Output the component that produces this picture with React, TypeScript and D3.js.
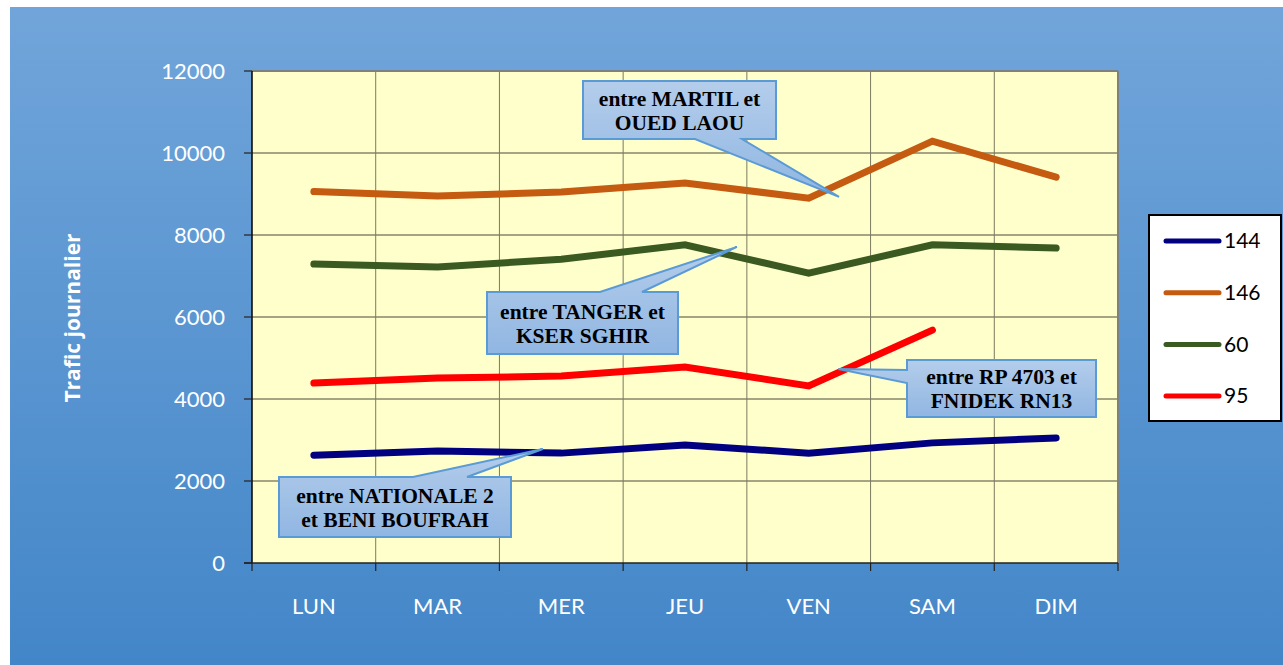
import React from "react";
import * as d3 from "d3";

const categories = ["LUN", "MAR", "MER", "JEU", "VEN", "SAM", "DIM"];
const seriesNames = ["144", "146", "60", "95"];
const values144 = [2630, 2730, 2680, 2880, 2680, 2930, 3050];
const values146 = [9060, 8950, 9050, 9270, 8900, 10290, 9410];
const values60 = [7290, 7220, 7410, 7760, 7070, 7760, 7680];
const values95: (number | null)[] = [4390, 4510, 4560, 4780, 4320, 5680, null];
const yTicks = [0, 2000, 4000, 6000, 8000, 10000, 12000];
const colors = ["#000080", "#c55a11", "#3a5a22", "#ff0000"];

const callouts = [
  { lines: ["entre MARTIL et", "OUED LAOU"], box: [583, 81, 776, 139], base: [695, 742], side: "bottom", tip: [4.745, 8930] },
  { lines: ["entre TANGER et", "KSER SGHIR"], box: [487, 292, 678, 354], base: [600, 642], side: "top", tip: [3.92, 7710] },
  { lines: ["entre RP 4703 et", "FNIDEK RN13"], box: [907, 360, 1096, 417], base: [370, 383], side: "left", tip: [4.74, 4730] },
  { lines: ["entre NATIONALE 2", "et BENI BOUFRAH"], box: [279, 477, 511, 537], base: [413, 467], side: "top", tip: [2.35, 2780] },
];

const W = 1283, H = 665;
const L = 252, R = 1118, T = 71, B = 563;

export default function App() {
  const x = d3.scaleBand<string>().domain(categories).range([L, R]).padding(0);
  const xi = d3.scaleLinear().domain([0, categories.length]).range([L, R]);
  const y = d3.scaleLinear().domain([0, 12000]).range([B, T]);
  const all = [values144, values146, values60, values95];
  const line = d3
    .line<number | null>()
    .defined((d) => d != null)
    .x((_, i) => (x(categories[i]) as number) + x.bandwidth() / 2)
    .y((d) => y(d as number));

  const calloutPath = (c: any) => {
    const [x0, y0, x1, y1] = c.box;
    const tx = xi(c.tip[0]);
    const ty = y(c.tip[1]);
    const [a, b] = c.base;
    if (c.side === "bottom")
      return `M${x0},${y0}H${x1}V${y1}H${b}L${tx},${ty}L${a},${y1}H${x0}Z`;
    if (c.side === "top")
      return `M${x0},${y0}H${a}L${tx},${ty}L${b},${y0}H${x1}V${y1}H${x0}Z`;
    return `M${x0},${y0}H${x1}V${y1}H${x0}V${b}L${tx},${ty}L${x0},${a}Z`;
  };

  const bounds = d3.range(categories.length + 1).map((i) => xi(i));

  return (
    <svg width={W} height={H} style={{ position: "absolute", left: 0, top: 0 }}>
      <defs>
        <linearGradient id="bg" x1="0" y1="0" x2="0" y2="1">
          <stop offset="0" stopColor="#71a5da" />
          <stop offset="1" stopColor="#4386c8" />
        </linearGradient>
        <linearGradient id="co" x1="0" y1="0" x2="0" y2="1">
          <stop offset="0" stopColor="#b4cdeb" />
          <stop offset="1" stopColor="#90b6e2" />
        </linearGradient>
      </defs>
      <rect x={0} y={0} width={W} height={H} fill="#ffffff" />
      <rect x={10} y={7} width={W - 10} height={H - 7} fill="url(#bg)" />
      <rect x={L} y={T} width={R - L} height={B - T} fill="#ffffcc" />
      {yTicks.slice(1).map((t) => (
        <line key={t} x1={L} x2={R} y1={y(t)} y2={y(t)} stroke="#4a4a3a" strokeWidth={1} />
      ))}
      {bounds.slice(1, -1).map((bx, i) => (
        <line key={i} x1={bx} x2={bx} y1={T} y2={B} stroke="#7a7a60" strokeWidth={1} />
      ))}
      <line x1={L} x2={R} y1={T} y2={T} stroke="#808080" strokeWidth={2} />
      <line x1={R} x2={R} y1={T} y2={B} stroke="#808080" strokeWidth={2} />
      <line x1={L} x2={L} y1={T} y2={B + 0.5} stroke="#000" strokeWidth={1.5} />
      <line x1={L - 8} x2={R} y1={B} y2={B} stroke="#222" strokeWidth={1.5} />
      {yTicks.map((t) => (
        <g key={t}>
          <line x1={L - 8} x2={L} y1={y(t)} y2={y(t)} stroke="#222" strokeWidth={1.2} />
          <text x={225} y={y(t)} dy="0.35em" textAnchor="end" fill="#fff" fontFamily="Lato, 'Open Sans', sans-serif" fontSize={22}>
            {t}
          </text>
        </g>
      ))}
      {bounds.map((bx, i) => (
        <line key={i} x1={bx} x2={bx} y1={B} y2={B + 8} stroke="#222" strokeWidth={1.2} />
      ))}
      {categories.map((c) => (
        <text key={c} x={(x(c) as number) + x.bandwidth() / 2} y={606} dy="0.35em" textAnchor="middle" fill="#fff" fontFamily="Lato, 'Open Sans', sans-serif" fontSize={22}>
          {c}
        </text>
      ))}
      <text transform={`translate(80,${318}) rotate(-90)`} textAnchor="middle" fill="#fff" fontFamily="'Open Sans', Lato, sans-serif" fontWeight="bold" fontSize={21}>
        Trafic journalier
      </text>
      {all.map((vals, k) => (
        <path key={k} d={line(vals) || ""} fill="none" stroke={colors[k]} strokeWidth={7} strokeLinecap="round" strokeLinejoin="miter" />
      ))}
      {callouts.map((c, k) => {
        const [x0, y0, x1, y1] = c.box;
        const cx = (x0 + x1) / 2;
        const cy = (y0 + y1) / 2;
        return (
          <g key={k}>
            <path d={calloutPath(c)} fill="url(#co)" stroke="#5b9bd5" strokeWidth={2} />
            {c.lines.map((t, j) => (
              <text key={j} x={cx} y={cy + (j === 0 ? -12 : 12)} dy="0.35em" textAnchor="middle" fill="#000" fontFamily="'Liberation Serif', 'Times New Roman', serif" fontWeight="bold" fontSize={21.5}>
                {t}
              </text>
            ))}
          </g>
        );
      })}
      <rect x={1149} y={215} width={132} height={206} fill="#fff" stroke="#000" strokeWidth={2} />
      {seriesNames.map((s, k) => {
        const ly = 241 + k * 51.7;
        return (
          <g key={s}>
            <line x1={1166} x2={1219} y1={ly} y2={ly} stroke={colors[k]} strokeWidth={5} strokeLinecap="round" />
            <text x={1224} y={ly} dy="0.35em" fill="#000" fontFamily="Lato, 'Open Sans', sans-serif" fontSize={21}>
              {s}
            </text>
          </g>
        );
      })}
    </svg>
  );
}
